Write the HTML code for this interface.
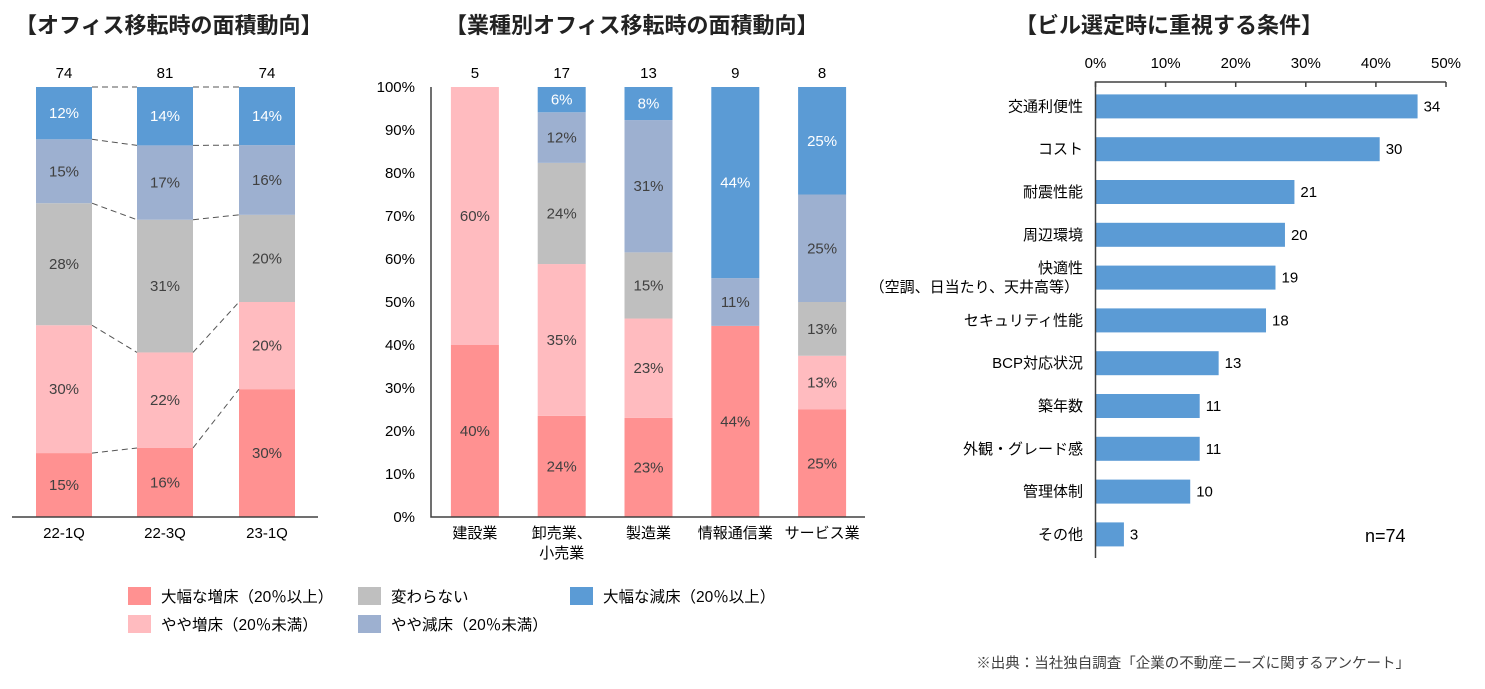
<!DOCTYPE html>
<html><head><meta charset="utf-8"><style>
body{margin:0;width:1485px;height:684px;background:#fff;overflow:hidden;font-family:"Liberation Sans","Noto Sans CJK JP",sans-serif;color:#404040}
svg text{font-family:"Liberation Sans","Noto Sans CJK JP",sans-serif}
</style></head><body>
<svg id="s" width="1485" height="684">
<text x="15" y="33" font-size="22" font-weight="bold" fill="#222">【オフィス移転時の面積動向】</text>
<text x="445" y="33" font-size="22" font-weight="bold" fill="#222">【業種別オフィス移転時の面積動向】</text>
<text x="1015" y="33" font-size="22" font-weight="bold" fill="#222">【ビル選定時に重視する条件】</text>
<g id="g1"></g><g id="g2"></g><g id="g3"></g><g id="lg"></g>
<text x="1410" y="668" font-size="14.5" text-anchor="end" fill="#404040">※出典：当社独自調査「企業の不動産ニーズに関するアンケート」</text>
</svg>
<script>
const colors=["#FF9191","#FFBBBF","#BFBFBF","#9DB0D0","#5B9BD5"];
const segNames=["大幅な増床（20％以上）","やや増床（20％未満）","変わらない","やや減床（20％未満）","大幅な減床（20％以上）"];
// left chart counts per segment (bottom->top)
const periods=["22-1Q","22-3Q","23-1Q"];
const periodCounts=[[11,22,21,11,9],[13,18,25,14,11],[22,15,15,12,10]];
// middle chart
const industries=["建設業","卸売業、\n小売業","製造業","情報通信業","サービス業"];
const industryCounts=[[2,3,0,0,0],[4,6,4,2,1],[3,3,2,4,1],[4,0,0,1,4],[2,1,1,2,2]];
const yTicks=[0,10,20,30,40,50,60,70,80,90,100];
// right chart
const factors=["交通利便性","コスト","耐震性能","周辺環境","快適性\n（空調、日当たり、天井高等）","セキュリティ性能","BCP対応状況","築年数","外観・グレード感","管理体制","その他"];
const factorCounts=[34,30,21,20,19,18,13,11,11,10,3];
const xTicks=[0,10,20,30,40,50];
const totalN=74;

const NS="http://www.w3.org/2000/svg";
function mk(p,t,a,txt){const e=document.createElementNS(NS,t);for(const k in a)e.setAttribute(k,a[k]);if(txt!==undefined)e.textContent=txt;p.appendChild(e);return e;}
const yTop=87,yBot=517,H=yBot-yTop;
const yS=v=>yBot-v/100*H;
const FS=15;

// LEFT
const g1=document.getElementById('g1');
const lx=[36,137,239],bw1=56;
const bounds=[];
periods.forEach((p,i)=>{
 const n=periodCounts[i].reduce((a,b)=>a+b,0);let cum=0;const b=[yBot];
 periodCounts[i].forEach((c,j)=>{
  const pct=c/n*100,y0=yS(cum),y1=yS(cum+pct);
  const r=mk(g1,'rect',{x:lx[i],y:y1,width:bw1,height:y0-y1,fill:colors[j]});
  
  
  const t=mk(g1,'text',{x:lx[i]+bw1/2,y:(y0+y1)/2+5,'font-size':FS,'text-anchor':'middle',fill:j==4?'#fff':'#404040'},Math.round(pct)+'%');
  
  
  cum+=pct;b.push(y1);
 });
 bounds.push(b);
 const tn=mk(g1,'text',{x:lx[i]+bw1/2,y:78,'font-size':FS,'text-anchor':'middle'},n);
 
 
 const tl=mk(g1,'text',{x:lx[i]+bw1/2,y:538,'font-size':FS,'text-anchor':'middle'},p);
 
 
});
for(let i=0;i<periods.length-1;i++)for(let k=1;k<=5;k++){
 const l=mk(g1,'line',{x1:lx[i]+bw1,y1:bounds[i][k],x2:lx[i+1],y2:bounds[i+1][k],stroke:'#555','stroke-dasharray':'6,4','stroke-width':1});
 
 
}
const a1=mk(g1,'line',{x1:12,y1:yBot,x2:318,y2:yBot,stroke:'#404040','stroke-width':1.5});



// MIDDLE
const g2=document.getElementById('g2');
const mx0=431,mx1=865,bw2=48,slot=(mx1-mx0)/industries.length;
yTicks.forEach(v=>{
 const t=mk(g2,'text',{x:415,y:yS(v)+5,'font-size':FS,'text-anchor':'end'},v+'%');
 
 
});
industries.forEach((nm,i)=>{
 const cx=mx0+slot*(i+0.5)+0.5,x=cx-bw2/2;
 const n=industryCounts[i].reduce((a,b)=>a+b,0);let cum=0;
 industryCounts[i].forEach((c,j)=>{
  if(!c)return;
  const pct=c/n*100,y0=yS(cum),y1=yS(cum+pct);
  const r=mk(g2,'rect',{x:x,y:y1,width:bw2,height:y0-y1,fill:colors[j]});
  
  
  const t=mk(g2,'text',{x:cx,y:(y0+y1)/2+5,'font-size':FS,'text-anchor':'middle',fill:j==4?'#fff':'#404040'},Math.round(pct)+'%');
  
  
  cum+=pct;
 });
 const tn=mk(g2,'text',{x:cx,y:78,'font-size':FS,'text-anchor':'middle'},n);
 
 
 nm.split('\n').forEach((ln,k)=>{
  const tl=mk(g2,'text',{x:cx,y:538+k*20,'font-size':FS,'text-anchor':'middle'},ln);
  
  
 });
});
const a2=mk(g2,'path',{d:`M${mx0} ${yTop}V${yBot}H${mx1}`,stroke:'#404040','stroke-width':1.5,fill:'none'});



// RIGHT
const g3=document.getElementById('g3');
const rx0=1095.5,rx1=1446,xS=v=>rx0+v/50*(rx1-rx0);
const ry0=85,rowH=42.8,bh=24;
xTicks.forEach(v=>{
 const t=mk(g3,'text',{x:xS(v),y:68,'font-size':FS,'text-anchor':'middle'},v+'%');
 
 
 const tk=mk(g3,'line',{x1:xS(v),y1:82,x2:xS(v),y2:87,stroke:'#404040','stroke-width':1.5});
 
 
});
factors.forEach((f,i)=>{
 const cy=ry0+rowH*(i+0.5);
 const w=xS(factorCounts[i]/totalN*100)-rx0;
 const r=mk(g3,'rect',{x:rx0,y:cy-bh/2,width:w,height:bh,fill:'#5B9BD5'});
 
 
 const v=mk(g3,'text',{x:rx0+w+6,y:cy+5,'font-size':FS},factorCounts[i]);
 
 
 const ls=f.split('\n');
 ls.forEach((ln,k)=>{
  const t=mk(g3,'text',{x:ls.length>1&&k==1?1079:1083,y:cy+5+(k-(ls.length-1)/2)*19,'font-size':FS,'text-anchor':'end'},ln);
  
  
 });
});
const a3=mk(g3,'path',{d:`M${rx0} 558V82H${rx1}`,stroke:'#404040','stroke-width':1.5,fill:'none'});


const nt=mk(g3,'text',{x:1365,y:542,'font-size':18},'n='+totalN);



// LEGEND
const lg=document.getElementById('lg');
const legPos=[[128,596],[128,624],[358,596],[358,624],[570,596]];
segNames.forEach((s,j)=>{
 const [x,y]=legPos[j];
 const r=mk(lg,'rect',{x:x,y:y-9,width:23,height:18,fill:colors[j]});
 
 
 const t=mk(lg,'text',{x:x+33,y:y+6,'font-size':15.5},s);
 
 
});
</script>
</body></html>
